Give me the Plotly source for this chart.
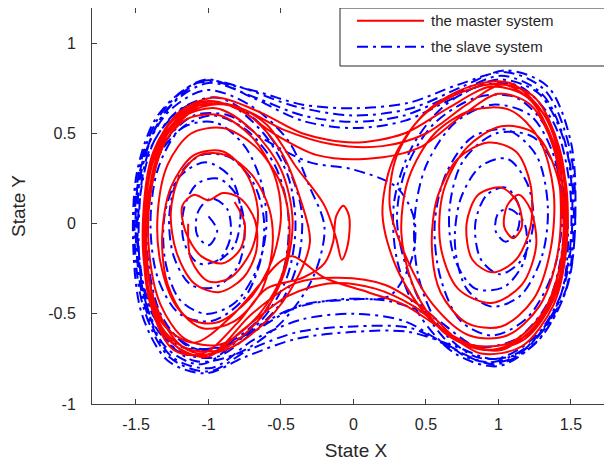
import plotly.graph_objects as go

# ---- data: (State X, State Y) samples ----
master_points = [
    (-0.82, 0.12), (-0.75, 0.0), (-0.78, -0.14), (-0.9, -0.22), (-1.05, -0.18), (-1.16, -0.04),
    (-1.18, 0.1), (-1.1, 0.16), (-1.0, 0.13), (-0.9, 0.17), (-0.78, 0.14), (-0.68, 0.02),
    (-0.67, -0.15), (-0.76, -0.3), (-0.93, -0.38), (-1.1, -0.33), (-1.22, -0.16), (-1.26, 0.06),
    (-1.2, 0.26), (-1.06, 0.38), (-0.88, 0.38), (-0.7, 0.27), (-0.58, 0.08), (-0.56, -0.14),
    (-0.64, -0.38), (-0.82, -0.54), (-1.04, -0.58), (-1.22, -0.46), (-1.33, -0.22), (-1.35, 0.06),
    (-1.28, 0.33), (-1.12, 0.5), (-0.9, 0.53), (-0.68, 0.43), (-0.5, 0.22), (-0.44, -0.03),
    (-0.5, -0.3), (-0.68, -0.53), (-0.92, -0.67), (-1.16, -0.64), (-1.33, -0.45), (-1.41, -0.15),
    (-1.4, 0.16), (-1.3, 0.45), (-1.1, 0.63), (-0.85, 0.66), (-0.6, 0.55),
    (-0.4, 0.32), (-0.2, 0.1), (-0.12, -0.08), (-0.08, -0.2), (-0.04, -0.12), (-0.03, 0.04),
    (-0.07, 0.1), (-0.12, 0.04), (-0.14, -0.1), (-0.2, -0.22), (-0.35, -0.3), (-0.6, -0.36),
    (-0.8, -0.55), (-1.05, -0.72), (-1.3, -0.6), (-1.43, -0.3), (-1.45, 0.05), (-1.38, 0.4),
    (-1.2, 0.62), (-0.95, 0.7),
    (-0.65, 0.62), (-0.35, 0.5), (0.0, 0.45), (0.35, 0.5), (0.65, 0.64), (0.95, 0.76),
    (1.2, 0.7), (1.38, 0.45), (1.45, 0.1), (1.42, -0.25), (1.3, -0.5), (1.08, -0.66),
    (0.8, -0.67), (0.52, -0.52), (0.3, -0.25), (0.2, 0.05), (0.27, 0.35), (0.48, 0.6),
    (0.78, 0.74), (1.05, 0.77), (1.3, 0.62), (1.44, 0.3), (1.46, -0.08), (1.38, -0.42),
    (1.18, -0.64), (0.9, -0.7), (0.62, -0.6), (0.42, -0.36), (0.33, -0.05), (0.38, 0.25),
    (0.56, 0.5), (0.82, 0.63), (1.08, 0.63), (1.28, 0.47), (1.38, 0.18), (1.36, -0.14),
    (1.24, -0.42), (1.02, -0.57), (0.78, -0.55), (0.6, -0.38), (0.54, -0.12), (0.58, 0.15),
    (0.72, 0.36), (0.93, 0.45), (1.12, 0.4), (1.22, 0.22), (1.22, -0.02), (1.12, -0.2),
    (0.96, -0.27), (0.82, -0.2), (0.78, 0.0), (0.86, 0.16), (1.02, 0.2), (1.13, 0.12),
    (1.16, -0.02), (1.1, -0.08), (1.04, -0.02), (1.06, 0.1), (1.14, 0.16), (1.22, 0.08),
    (1.26, -0.12), (1.16, -0.34), (0.95, -0.44), (0.72, -0.36), (0.6, -0.12), (0.62, 0.18),
    (0.78, 0.42), (1.02, 0.54), (1.25, 0.5), (1.4, 0.28), (1.45, -0.04), (1.4, -0.36),
    (1.22, -0.6), (0.95, -0.7), (0.68, -0.62),
    (0.42, -0.46), (0.15, -0.36), (-0.15, -0.33), (-0.45, -0.4), (-0.75, -0.58), (-1.02, -0.74),
    (-1.28, -0.64), (-1.42, -0.35), (-1.44, 0.0), (-1.38, 0.35), (-1.2, 0.58), (-0.95, 0.64),
    (-0.7, 0.52), (-0.5, 0.3), (-0.42, 0.02), (-0.48, -0.28), (-0.66, -0.54), (-0.92, -0.7),
    (-1.18, -0.68), (-1.36, -0.46), (-1.43, -0.12), (-1.4, 0.22), (-1.28, 0.5), (-1.05, 0.66),
    (-0.78, 0.64),
    (-0.48, 0.52), (-0.15, 0.44), (0.2, 0.43), (0.5, 0.5), (0.78, 0.66), (1.02, 0.77),
    (1.25, 0.7), (1.42, 0.42), (1.47, 0.05), (1.42, -0.3), (1.26, -0.56), (1.02, -0.7),
    (0.75, -0.66),
    (0.5, -0.48), (0.22, -0.34), (-0.1, -0.3), (-0.4, -0.33), (-0.7, -0.5), (-0.98, -0.72),
    (-1.24, -0.7), (-1.4, -0.45), (-1.45, -0.08), (-1.41, 0.3), (-1.25, 0.57), (-1.0, 0.68),
    (-0.72, 0.6), (-0.5, 0.4), (-0.36, 0.12), (-0.3, -0.1), (-0.4, -0.32), (-0.6, -0.54),
    (-0.88, -0.7), (-1.15, -0.72), (-1.35, -0.54), (-1.44, -0.2), (-1.43, 0.15), (-1.33, 0.46),
    (-1.12, 0.64), (-0.85, 0.66),
    (-0.55, 0.5), (-0.25, 0.38), (0.1, 0.36), (0.45, 0.42), (0.75, 0.6), (1.0, 0.72),
    (1.22, 0.66), (1.38, 0.42), (1.43, 0.1), (1.4, -0.2), (1.28, -0.46), (1.06, -0.62),
    (0.8, -0.62), (0.55, -0.45), (0.36, -0.18), (0.25, 0.1), (0.3, 0.38), (0.5, 0.62),
    (0.8, 0.76), (1.08, 0.78), (1.32, 0.6), (1.46, 0.25), (1.47, -0.12), (1.38, -0.45),
    (1.16, -0.68), (0.88, -0.72), (0.6, -0.58),
    (0.35, -0.45), (0.1, -0.38), (-0.2, -0.3), (-0.42, -0.18), (-0.52, -0.22), (-0.65, -0.34),
    (-0.85, -0.52), (-1.1, -0.66), (-1.32, -0.55), (-1.42, -0.25), (-1.42, 0.1), (-1.34, 0.4),
    (-1.15, 0.58), (-0.92, 0.6), (-0.7, 0.48), (-0.55, 0.28), (-0.5, 0.05), (-0.56, -0.2),
    (-0.72, -0.42), (-0.95, -0.55), (-1.15, -0.52), (-1.28, -0.34), (-1.32, -0.08), (-1.26, 0.2),
    (-1.1, 0.38), (-0.9, 0.4), (-0.74, 0.28), (-0.66, 0.08), (-0.7, -0.14), (-0.85, -0.3),
    (-1.0, -0.32), (-1.12, -0.2), (-1.14, 0.0),
]

slave_points = [
    (-1.0, 0.04), (-0.94, -0.04), (-1.0, -0.12), (-1.08, -0.06), (-1.07, 0.07), (-0.98, 0.14),
    (-0.87, 0.08), (-0.85, -0.08), (-0.93, -0.2), (-1.07, -0.22), (-1.17, -0.1), (-1.17, 0.08),
    (-1.08, 0.22), (-0.93, 0.25), (-0.8, 0.15), (-0.75, -0.04), (-0.8, -0.24), (-0.95, -0.35),
    (-1.12, -0.34), (-1.24, -0.18), (-1.27, 0.05), (-1.2, 0.27), (-1.05, 0.38), (-0.86, 0.37),
    (-0.7, 0.24), (-0.62, 0.04), (-0.64, -0.2), (-0.76, -0.42), (-0.98, -0.54), (-1.2, -0.5),
    (-1.35, -0.3), (-1.4, 0.0), (-1.35, 0.3), (-1.2, 0.52), (-0.98, 0.6), (-0.74, 0.52),
    (-0.54, 0.32), (-0.45, 0.05), (-0.48, -0.25), (-0.64, -0.52), (-0.92, -0.68), (-1.2, -0.68),
    (-1.4, -0.48), (-1.49, -0.12), (-1.47, 0.26), (-1.33, 0.58),
    (-1.05, 0.79), (-0.7, 0.74), (-0.35, 0.66), (0.0, 0.64), (0.38, 0.67), (0.72, 0.77),
    (1.05, 0.84), (1.32, 0.74), (1.49, 0.42), (1.53, 0.02), (1.47, -0.36), (1.28, -0.64),
    (1.0, -0.79), (0.7, -0.72), (0.45, -0.5), (0.3, -0.2), (0.28, 0.12), (0.4, 0.42),
    (0.62, 0.65), (0.9, 0.77), (1.15, 0.76), (1.38, 0.56), (1.49, 0.22), (1.49, -0.16),
    (1.38, -0.5), (1.14, -0.72), (0.85, -0.74), (0.6, -0.58), (0.45, -0.3), (0.42, 0.02),
    (0.5, 0.32), (0.7, 0.56), (0.96, 0.66), (1.22, 0.6), (1.38, 0.38), (1.44, 0.06),
    (1.38, -0.26), (1.2, -0.52), (0.96, -0.62), (0.74, -0.54), (0.6, -0.3), (0.56, 0.0),
    (0.64, 0.28), (0.82, 0.48), (1.06, 0.52), (1.26, 0.38), (1.34, 0.1), (1.3, -0.18),
    (1.15, -0.4), (0.95, -0.46), (0.78, -0.36), (0.7, -0.12), (0.74, 0.14), (0.88, 0.32),
    (1.06, 0.36), (1.2, 0.22), (1.24, 0.0), (1.16, -0.2), (1.01, -0.28), (0.88, -0.2),
    (0.84, 0.0), (0.92, 0.16), (1.05, 0.2), (1.14, 0.1), (1.13, -0.04), (1.05, -0.1),
    (0.98, -0.04), (1.0, 0.06), (1.08, 0.08),
    (1.18, 0.0), (1.18, -0.2), (1.04, -0.35), (0.84, -0.36), (0.7, -0.2), (0.66, 0.06),
    (0.75, 0.34), (0.98, 0.5), (1.24, 0.48), (1.42, 0.26), (1.48, -0.08), (1.42, -0.42),
    (1.2, -0.68), (0.92, -0.77), (0.62, -0.66),
    (0.35, -0.54), (0.0, -0.5), (-0.35, -0.53), (-0.68, -0.64), (-0.98, -0.8), (-1.25, -0.74),
    (-1.43, -0.48), (-1.5, -0.1), (-1.47, 0.3), (-1.3, 0.6), (-1.02, 0.74), (-0.72, 0.66),
    (-0.45, 0.46), (-0.3, 0.2), (-0.2, -0.02), (-0.28, -0.3), (-0.5, -0.55), (-0.8, -0.72),
    (-1.1, -0.76), (-1.36, -0.58), (-1.48, -0.24), (-1.47, 0.16), (-1.36, 0.48), (-1.13, 0.66),
    (-0.86, 0.66), (-0.62, 0.5), (-0.45, 0.26), (-0.4, -0.02), (-0.46, -0.3), (-0.64, -0.54),
    (-0.9, -0.68), (-1.14, -0.68), (-1.33, -0.5), (-1.42, -0.18), (-1.41, 0.16), (-1.3, 0.45),
    (-1.1, 0.6), (-0.86, 0.6),
    (-0.6, 0.46), (-0.3, 0.34), (0.0, 0.3), (0.3, 0.2), (0.42, 0.02), (0.4, -0.2),
    (0.25, -0.4), (0.0, -0.42), (-0.35, -0.45), (-0.65, -0.58), (-0.95, -0.74), (-1.22, -0.7),
    (-1.42, -0.42), (-1.49, -0.04), (-1.45, 0.35), (-1.28, 0.64), (-1.0, 0.78),
    (-0.68, 0.7), (-0.35, 0.6), (0.0, 0.565), (0.35, 0.6), (0.7, 0.72), (1.02, 0.82),
    (1.3, 0.72), (1.47, 0.42), (1.52, 0.02), (1.46, -0.38), (1.26, -0.66), (0.98, -0.78),
    (0.7, -0.7),
    (0.4, -0.58), (0.0, -0.57), (-0.38, -0.6), (-0.72, -0.7), (-1.0, -0.82), (-1.27, -0.74),
    (-1.45, -0.46), (-1.51, -0.05), (-1.46, 0.36), (-1.3, 0.64), (-1.02, 0.8),
    (-0.7, 0.7), (-0.35, 0.57), (0.0, 0.53), (0.35, 0.57), (0.7, 0.7), (1.0, 0.8),
    (1.28, 0.72), (1.46, 0.44), (1.51, 0.05), (1.45, -0.35), (1.26, -0.62), (0.98, -0.75),
    (0.7, -0.68),
    (0.38, -0.6), (0.0, -0.6), (-0.4, -0.64), (-0.75, -0.74), (-1.02, -0.83), (-1.28, -0.76),
    (-1.46, -0.5), (-1.52, -0.1), (-1.49, 0.3), (-1.35, 0.6), (-1.08, 0.78), (-0.8, 0.76),
    (-0.4, 0.65), (0.0, 0.6), (0.4, 0.64), (0.75, 0.76), (1.05, 0.85), (1.34, 0.76),
    (1.5, 0.45), (1.53, 0.05), (1.48, -0.33), (1.3, -0.6), (1.05, -0.76), (0.78, -0.74),
    (0.55, -0.56), (0.38, -0.28), (0.3, 0.02), (0.36, 0.3), (0.55, 0.55), (0.85, 0.7),
    (1.12, 0.7), (1.34, 0.52), (1.45, 0.2), (1.44, -0.14), (1.34, -0.44), (1.12, -0.64),
    (0.85, -0.68),
    (0.55, -0.52), (0.25, -0.43), (-0.1, -0.42), (-0.45, -0.48), (-0.75, -0.62), (-1.05, -0.78),
    (-1.3, -0.68), (-1.45, -0.38), (-1.48, 0.02), (-1.42, 0.38), (-1.22, 0.62), (-0.95, 0.7),
    (-0.68, 0.58), (-0.48, 0.36), (-0.36, 0.08), (-0.38, -0.2), (-0.52, -0.46), (-0.78, -0.64),
    (-1.06, -0.7), (-1.3, -0.56), (-1.42, -0.26), (-1.42, 0.08), (-1.34, 0.38), (-1.16, 0.54),
    (-0.95, 0.56), (-0.76, 0.44), (-0.64, 0.24), (-0.6, 0.0), (-0.66, -0.24), (-0.82, -0.44),
    (-1.02, -0.5), (-1.2, -0.42), (-1.3, -0.2), (-1.3, 0.06), (-1.2, 0.26), (-1.02, 0.34),
    (-0.85, 0.26), (-0.78, 0.08), (-0.82, -0.12), (-0.95, -0.22),
]

master_x = [p[0] for p in master_points]
master_y = [p[1] for p in master_points]
slave_x = [p[0] for p in slave_points]
slave_y = [p[1] for p in slave_points]

x_tick_values = [-1.5, -1, -0.5, 0, 0.5, 1, 1.5]
x_tick_labels = ["-1.5", "-1", "-0.5", "0", "0.5", "1", "1.5"]
y_tick_values = [-1, -0.5, 0, 0.5, 1]
y_tick_labels = ["-1", "-0.5", "0", "0.5", "1"]
series_names = ["the master system", "the slave system"]

FONT = "Liberation Sans, Arial, Helvetica, sans-serif"
AX = "#404040"
TXT = "#262626"
RED = "#ff0000"
BLUE = "#0000ff"
DASHDOT = "11px,5px,3px,5px"

fig = go.Figure()
fig.add_trace(go.Scatter(
    x=slave_x, y=slave_y, mode="lines", name=series_names[1], showlegend=False,
    line=dict(color=BLUE, width=2, dash=DASHDOT, shape="spline", smoothing=0.9),
))
fig.add_trace(go.Scatter(
    x=master_x, y=master_y, mode="lines", name=series_names[0], showlegend=False,
    line=dict(color=RED, width=2, shape="spline", smoothing=0.9),
))

axis_common = dict(
    showgrid=False, zeroline=False, showline=True, linecolor=AX, linewidth=1,
    ticks="inside", ticklen=5, tickwidth=1, tickcolor=AX,
    tickfont=dict(family=FONT, size=16, color=TXT),
)

# plot area in figure pixels (the page adds an 8px body margin)
ML, MT, MB = 84, 0, 70
PW, PH = 612 - ML, 466 - MT - MB

fig.update_layout(
    width=612, height=466,
    margin=dict(l=ML, r=0, t=MT, b=MB),
    paper_bgcolor="white", plot_bgcolor="white",
    font=dict(family=FONT, color=TXT),
    xaxis=dict(
        range=[-1.8034, -1.8034 + PW / 145.0], tickmode="array",
        tickvals=x_tick_values, ticktext=x_tick_labels,
        mirror="ticks", ticklabelstandoff=6,
        title=dict(text="State X", font=dict(family=FONT, size=19, color=TXT), standoff=11),
        **axis_common,
    ),
    yaxis=dict(
        range=[-1, 1.196], tickmode="array", tickvals=y_tick_values, ticktext=y_tick_labels,
        mirror=False, ticklabelstandoff=12,
        title=dict(text="State Y", font=dict(family=FONT, size=19, color=TXT), standoff=20),
        **axis_common,
    ),
)

# legend box (top-right, as in the reference); page px -> paper coords
def px(xp):
    return (xp - 8 - ML) / PW

def py(yp):
    return (PH - (yp - 8 - MT)) / PH

fig.add_shape(type="rect", xref="paper", yref="paper", x0=px(340), x1=1.03, y0=py(66), y1=1.0,
              line=dict(color=TXT, width=1), fillcolor="white", layer="above")
fig.add_shape(type="line", xref="paper", yref="paper", x0=px(357), x1=px(424), y0=py(20.7), y1=py(20.7),
              line=dict(color=RED, width=2), layer="above")
fig.add_shape(type="line", xref="paper", yref="paper", x0=px(357), x1=px(424), y0=py(46.7), y1=py(46.7),
              line=dict(color=BLUE, width=2, dash=DASHDOT), layer="above")
fig.add_annotation(xref="paper", yref="paper", x=px(429), y=py(20.7), text=series_names[0],
                   showarrow=False, xanchor="left", yanchor="middle",
                   font=dict(family=FONT, size=15, color=TXT))
fig.add_annotation(xref="paper", yref="paper", x=px(429), y=py(46.7), text=series_names[1],
                   showarrow=False, xanchor="left", yanchor="middle",
                   font=dict(family=FONT, size=15, color=TXT))

fig.write_html("out.html")
